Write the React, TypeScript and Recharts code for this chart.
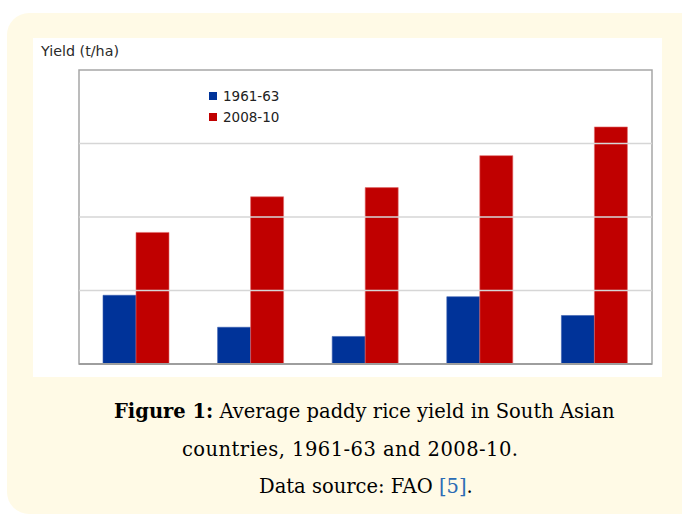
import React from "react";
import { BarChart, Bar, XAxis, YAxis, ReferenceLine, ReferenceArea } from "recharts";

// Average paddy rice yield (t/ha) for five South Asian countries
const countries = ["Country A", "Country B", "Country C", "Country D", "Country E"];
const yield1961 = [1.87, 1.0, 0.75, 1.83, 1.32];
const yield2008 = [3.58, 4.55, 4.8, 5.67, 6.45];
const yTicks = [0, 2, 4, 6, 8];
const gridValues = [2, 4, 6];

const data = countries.map((c, i) => ({ country: c, p1961: yield1961[i], p2008: yield2008[i] }));

const BLUE = "#003399";
const RED = "#c00000";

const legendItems = [
  { label: "1961-63", color: BLUE },
  { label: "2008-10", color: RED },
];

const sans = "'DejaVu Sans', Verdana, sans-serif";

export default function App() {
  return (
    <div style={{ position: "absolute", left: 0, top: 0, width: 682, height: 515, overflow: "hidden", background: "#ffffff" }}>
      <div
        style={{
          position: "absolute",
          left: 7,
          top: 13,
          width: 700,
          height: 501,
          background: "#fffae6",
          borderRadius: 22,
        }}
      />
      <div style={{ position: "absolute", left: 33, top: 38, width: 629, height: 339, background: "#ffffff" }}>
        <div
          style={{
            position: "absolute",
            left: 8,
            top: 5,
            fontFamily: sans,
            fontSize: 14.3,
            color: "#2a2a2a",
            whiteSpace: "nowrap",
          }}
        >
          Yield (t/ha)
        </div>
        <BarChart
          width={629}
          height={339}
          data={data}
          margin={{ top: 32, right: 10, bottom: 13, left: 46 }}
          barGap={0}
          barSize={33}
        >
          <XAxis dataKey="country" hide />
          <YAxis domain={[0, 8]} ticks={yTicks} hide />
          {gridValues.map((v) => (
            <ReferenceLine key={v} y={v} stroke="#d6d6d6" strokeWidth={1.5} />
          ))}
          <ReferenceArea y1={0} y2={8} fill="none" stroke="#a6a6a6" strokeWidth={1.5} ifOverflow="visible" />
          <ReferenceLine y={0} stroke="#9e9e9e" strokeWidth={2} />
          <Bar dataKey="p1961" name="1961-63" fill={BLUE} stroke="#3a5fb0" strokeWidth={0.6} isAnimationActive={false} />
          <Bar dataKey="p2008" name="2008-10" fill={RED} stroke="#e06a6a" strokeWidth={0.6} isAnimationActive={false} />
        </BarChart>
        <div
          style={{
            position: "absolute",
            left: 176,
            top: 47,
            fontFamily: sans,
            fontSize: 13.5,
            color: "#222",
          }}
        >
          {legendItems.map((it) => (
            <div key={it.label} style={{ display: "flex", alignItems: "center", height: 21 }}>
              <span style={{ width: 8, height: 8, background: it.color, display: "inline-block", marginRight: 6 }} />
              <span>{it.label}</span>
            </div>
          ))}
        </div>
      </div>
      <div
        style={{
          position: "absolute",
          left: 0,
          top: 393,
          width: 682,
          fontFamily: "'DejaVu Serif', 'Liberation Serif', serif",
          fontSize: 19.5,
          color: "#000",
          lineHeight: "37.5px",
        }}
      >
        <div style={{ position: "absolute", left: 114, top: 0, whiteSpace: "nowrap" }}>
          <b>Figure 1:</b> Average paddy rice yield in South Asian
        </div>
        <div style={{ position: "absolute", left: 182, top: 37.5, whiteSpace: "nowrap", letterSpacing: 0.45 }}>
          countries, 1961-63 and 2008-10.
        </div>
        <div style={{ position: "absolute", left: 259, top: 75, whiteSpace: "nowrap" }}>
          Data source: FAO <span style={{ color: "#2b6cb5" }}>[5]</span>.
        </div>
      </div>
    </div>
  );
}
